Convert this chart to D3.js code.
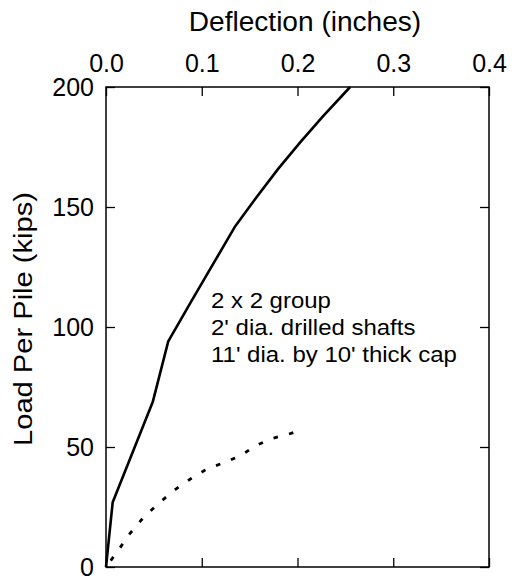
<!DOCTYPE html>
<html lang="en">
<head>
<meta charset="UTF-8">
<title>Load vs Deflection</title>
<style>
html,body{margin:0; width:100vw; height:100vh; overflow:hidden; background:#fff; font-family:"Liberation Sans", Arial, Helvetica, sans-serif;}
svg{display:block;}
</style>
</head>
<body>
<svg width="515" height="579"></svg>
<script src="https://d3js.org/d3.v7.min.js"></script>
<script>
// solid curve: deflection (in) vs load per pile (kips)
const solidDefl = [0, 0.007, 0.049, 0.065, 0.0895, 0.113, 0.135, 0.157, 0.18, 0.203, 0.227, 0.255];
const solidLoad = [0, 27, 69, 94, 111, 127, 142, 154, 166, 177, 188, 200];
// dotted curve
const dotDefl = [0, 0.0136, 0.0251, 0.040, 0.0564, 0.073, 0.0895, 0.106, 0.1236, 0.1406, 0.157, 0.174, 0.191, 0.196];
const dotLoad = [0, 7.4, 14, 21, 27, 32.5, 37, 41, 43.5, 46.4, 50.7, 53.6, 55.4, 56];
const xTicks = [0, 0.1, 0.2, 0.3, 0.4];
const yTicks = [0, 50, 100, 150, 200];
const note = ["2 x 2 group", "2' dia. drilled shafts", "11' dia. by 10' thick cap"];

const svg = d3.select("svg");
const L = 106, R = 489, T = 87, B = 567;
const x = d3.scaleLinear().domain([0, 0.4]).range([L, R]);
const y = d3.scaleLinear().domain([0, 200]).range([B, T]);

const styleAxis = (g, fs) => {
  g.select(".domain").remove();
  g.selectAll("line").attr("stroke", "#000").attr("stroke-width", 1.3);
  g.selectAll("text").attr("fill", "#000").style("font-size", fs + "px").style("font-family", "'Liberation Sans', Arial, sans-serif");
};

svg.append("g").attr("transform", `translate(0,${T})`)
  .call(d3.axisTop(x).tickValues(xTicks).tickFormat(d3.format(".1f")).tickSizeInner(-9).tickSizeOuter(0).tickPadding(15))
  .call(g => styleAxis(g, 25));
svg.append("g").attr("transform", `translate(0,${B})`)
  .call(d3.axisBottom(x).tickValues(xTicks).tickFormat("").tickSizeInner(-9).tickSizeOuter(0))
  .call(g => styleAxis(g, 25));
svg.append("g").attr("transform", `translate(${L},0)`)
  .call(d3.axisLeft(y).tickValues(yTicks).tickSizeInner(-9).tickSizeOuter(0).tickPadding(12))
  .call(g => styleAxis(g, 25));
svg.append("g").attr("transform", `translate(${R},0)`)
  .call(d3.axisRight(y).tickValues(yTicks).tickFormat("").tickSizeInner(-9).tickSizeOuter(0))
  .call(g => styleAxis(g, 25));

svg.append("rect").attr("x", L).attr("y", T).attr("width", R - L).attr("height", B - T)
  .attr("fill", "none").attr("stroke", "#000").attr("stroke-width", 1.5);

const line = d3.line().x(d => x(d[0])).y(d => y(d[1]));

svg.append("path").datum(solidDefl.map((d, i) => [d, solidLoad[i]]))
  .attr("d", line).attr("fill", "none").attr("stroke", "#000").attr("stroke-width", 2.6)
  .attr("stroke-linejoin", "round");

svg.append("path").datum(dotDefl.map((d, i) => [d, dotLoad[i]]))
  .attr("d", line).attr("fill", "none").attr("stroke", "#000").attr("stroke-width", 2.8)
  .attr("stroke-dasharray", "4.5,11.5").attr("stroke-dashoffset", -8);

// axis titles
svg.append("text").attr("transform", "translate(305,31) scale(1.04,1)")
  .attr("text-anchor", "middle").style("font-size", "27px").text("Deflection (inches)");
svg.append("text").attr("transform", "translate(32,319) rotate(-90) scale(1.12,1)")
  .attr("text-anchor", "middle").style("font-size", "26px").text("Load Per Pile (kips)");

// annotation
svg.append("g").attr("transform", "translate(211,308) scale(1.09,1)")
  .selectAll("text").data(note).join("text")
  .attr("y", (d, i) => i * 27).style("font-size", "22px").text(d => d);
</script>
</body>
</html>
